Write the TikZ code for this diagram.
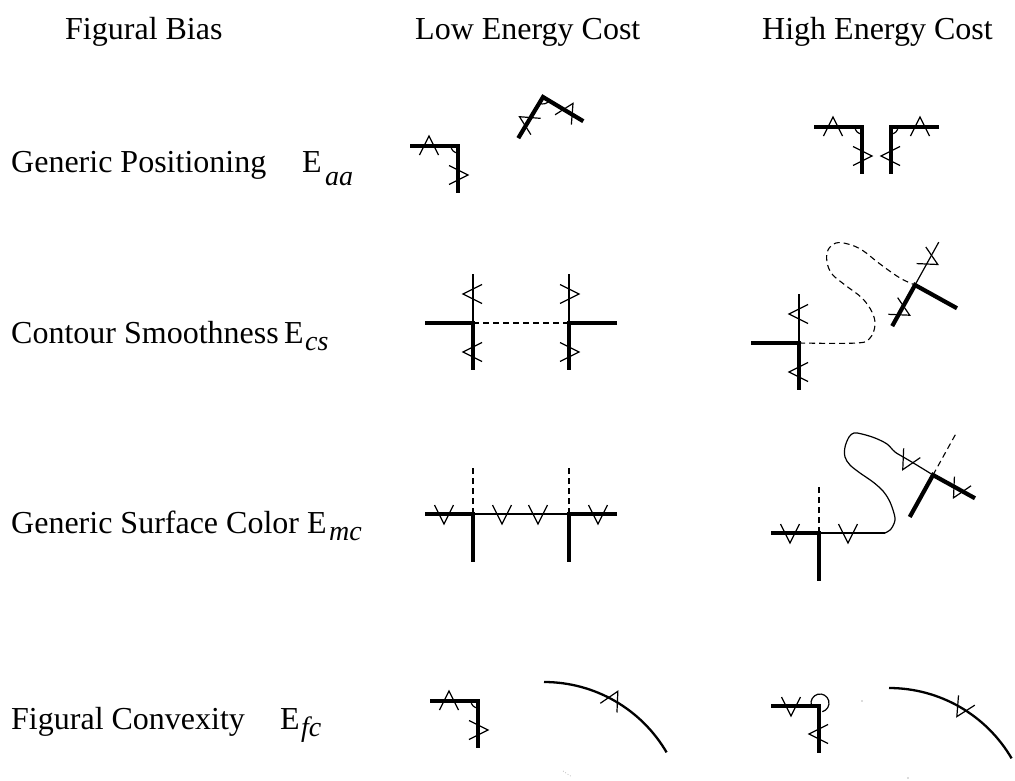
\documentclass[tikz,border=0pt]{standalone}
\usepackage{fontspec}
\setmainfont{Liberation Serif}
\begin{document}
\begin{tikzpicture}[x=1pt,y=-1pt,
  every pic/.style={transform shape},
  thk/.style={line width=4.2pt, line cap=butt, line join=miter},
  thn/.style={line width=1.2pt},
  dsh/.style={line width=1.1pt, dash pattern=on 6pt off 4pt},
  arcline/.style={line width=2.3pt},
  lbl/.style={font=\fontsize{32}{38}\selectfont, anchor=base west, inner sep=0pt},
  sub/.style={font=\fontsize{28}{32}\selectfont\itshape, anchor=base west, inner sep=0pt},
  faint/.style={line width=0.8pt, gray!55, dotted},
  tk/.pic={\draw[thn] (-9.5,9) -- (0,-10) -- (9.5,9);},
  jA/.pic={
    \draw[thk] (-48,0) -- (0,0) -- (0,47);
    \draw[thn] (-7,0) arc[start angle=180,end angle=270,radius=7pt];
    \pic at (-29,0) {tk};
    \pic[rotate=-90] at (0,29) {tk};
  },
  jB/.pic={
    \draw[thk] (-48,0) -- (0,0) -- (0,47);
    \draw[thn] (0,0) -- (0,-49);
    \pic[rotate=90] at (0,-29) {tk};
    \pic[rotate=90] at (0,29) {tk};
  },
  jC/.pic={
    \draw[thk] (-48,0) -- (0,0) -- (0,48);
    \draw[dsh] (0,0) -- (0,-49);
    \pic[rotate=180] at (-29,0) {tk};
  },
  jD/.pic={
    \draw[thk] (-48,0) -- (0,0) -- (0,47);
    \draw[thn] (1,-3) ++(195:9pt) arc[start angle=195,end angle=-75,radius=9pt];
    \pic[rotate=180] at (-28,0) {tk};
    \pic[rotate=90] at (0,28) {tk};
  }
]
\useasboundingbox (0,0) rectangle (1015,780);

% headers
\node[lbl] (h1) at (65,39) {Figural Bias};
\node[lbl] (h2) at (415,39) {Low Energy Cost};
\node[lbl] (h3) at (762,39) {High Energy Cost};

% row labels
\node[lbl] (l1) at (11,172) {Generic Positioning};
\node[lbl] (e1) at (302,172) {E};
\node[sub] (s1) at (325,185) {aa};
\node[lbl] (l2) at (11,343) {Contour Smoothness};
\node[lbl] (e2) at (284,343) {E};
\node[sub] (s2) at (305,350) {cs};
\node[lbl] (l3) at (11,533) {Generic Surface Color};
\node[lbl] (e3) at (307,533) {E};
\node[sub] (s3) at (329,540) {mc};
\node[lbl] (l4) at (11,729) {Figural Convexity};
\node[lbl] (e4) at (280,729) {E};
\node[sub] (s4) at (301,736) {fc};

% corners
\coordinate (a1) at (458,146);
\coordinate (a2) at (543,97);
\coordinate (a3) at (862,127);
\coordinate (a4) at (891,127);
\coordinate (b1) at (473,323);
\coordinate (b2) at (569,323);
\coordinate (b3) at (799,343);
\coordinate (b4) at (915,285);
\coordinate (c1) at (473,514);
\coordinate (c2) at (569,514);
\coordinate (c3) at (819,533);
\coordinate (c4) at (933,475);
\coordinate (d1) at (478,701);
\coordinate (d2) at (819,706);

% row 1: generic positioning
\pic at (a1) {jA};
\pic[rotate=59] at (a2) {jA};
\pic at (a3) {jA};
\pic[xscale=-1] at (a4) {jA};

% row 2: contour smoothness
\pic at (b1) {jB};
\pic[xscale=-1] at (b2) {jB};
\draw[dsh] (b1) -- (b2);
\pic at (b3) {jB};
\pic[rotate=-29,xscale=-1] at (b4) {jB};
\draw[dsh] plot[smooth,tension=0.6] coordinates {(b3) (857,343) (870,338) (875,325) (872,312) (862,298) (845,285) (832,274) (827,262) (828,250) (836,243) (848,244) (862,250) (880,264) (900,278) (b4)};

% row 3: generic surface color
\pic at (c1) {jC};
\pic[xscale=-1] at (c2) {jC};
\draw[thn] (c1) -- (c2);
\pic[rotate=180] at (502,514) {tk};
\pic[rotate=180] at (538,514) {tk};
\pic at (c3) {jC};
\draw[thn] (c3) -- (885,533);
\pic[rotate=180] at (848,533) {tk};
\pic[rotate=-29,xscale=-1] at (c4) {jC};
\pic[rotate=151] at (907.6,460.9) {tk};
\draw[thn] plot[smooth,tension=0.55] coordinates {(885,533) (891,529) (895,520) (893,510) (889,500) (883,491) (873,482) (860,473) (850,465) (845,457) (845,447) (849,437) (854,433) (862,434) (875,438) (887,444) (895,452) (905,458) (920,467) (c4)};

% row 4: figural convexity
\pic at (d1) {jA};
\coordinate (p1) at (544,682);
\draw[arcline] (p1) arc[start angle=90,end angle=30.3,radius=142pt];
\pic[rotate=-29] at (613,700) {tk};
\pic at (d2) {jD};
\coordinate (p2) at (889,688);
\draw[arcline] (p2) arc[start angle=90,end angle=30.3,radius=142pt];
\pic[rotate=149] at (962,708) {tk};

% faint remnants
\draw[faint] (563,771) -- (572,777);
\fill[gray!55] (862,701) circle[radius=0.8pt];
\fill[gray!55] (908,778) circle[radius=0.8pt];
\end{tikzpicture}
\end{document}
